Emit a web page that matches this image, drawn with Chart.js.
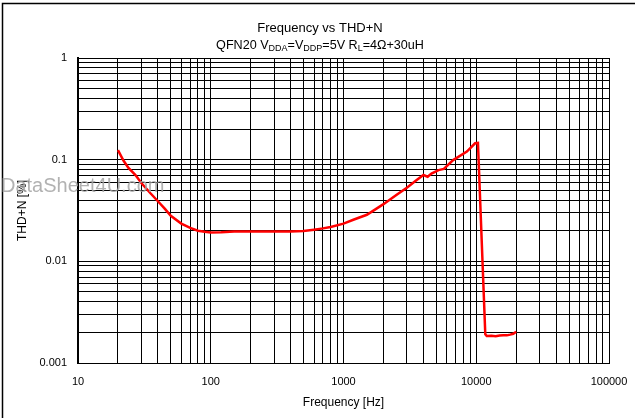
<!DOCTYPE html>
<html>
<head>
<meta charset="utf-8">
<script src="https://cdn.jsdelivr.net/npm/chart.js@4/dist/chart.umd.min.js"></script>
<style>
  html, body { margin: 0; padding: 0; background: #fff; }
  #wrap { width: 635px; height: 418px; }
</style>
</head>
<body>
<div id="wrap"><canvas id="c"></canvas></div>
<script>
// frequency (Hz) and THD+N (%)
const freq = [20, 22, 24, 27, 30, 35, 40, 45, 50, 60, 70, 80, 90, 100, 120, 150, 200, 300, 400, 500,
  600, 700, 800, 1000, 1200, 1500, 2000, 2500, 3000, 3500, 4000, 4300, 4600, 5200, 5700, 6700, 8500,
  9800, 10300, 11700, 12000, 13000, 14000, 15000, 16000, 17000, 18000, 19000, 20000];
const thd = [0.124, 0.098, 0.083, 0.071, 0.059, 0.047, 0.039, 0.033, 0.028, 0.0235, 0.0213, 0.02,
  0.0195, 0.0192, 0.0193, 0.0196, 0.0196, 0.0197, 0.0197, 0.0199, 0.0205, 0.0211, 0.0218, 0.0235,
  0.0258, 0.0287, 0.0365, 0.045, 0.053, 0.062, 0.0706, 0.068, 0.073, 0.079, 0.081, 0.099, 0.12,
  0.145, 0.146, 0.00192, 0.00184, 0.00185, 0.00183, 0.00186, 0.00187, 0.00187, 0.0019, 0.00194, 0.00203];

const xTickLabels = ["10", "100", "1000", "10000", "100000"];
const yTickLabels = ["0.001", "0.01", "0.1", "1"];

const titleLine1 = "Frequency vs THD+N";
const titleLine2 = [
  { t: "QFN20 V" }, { t: "DDA", sub: true }, { t: "=V" }, { t: "DDP", sub: true },
  { t: "=5V R" }, { t: "L", sub: true }, { t: "=4\u03A9+30uH" }
];
const watermark = "DataSheet4U.com";

// grid lines at 1..9 of every decade
function gridValues(labels) {
  const out = [];
  labels.forEach(function (l, i) {
    const d = Number(l);
    if (i === labels.length - 1) { out.push(d); return; }
    for (let k = 1; k < 10; k++) out.push(d * k);
  });
  return out;
}
const xGrid = gridValues(xTickLabels);
const yGrid = gridValues(yTickLabels);

function decadeLabel(labels) {
  return function (value) {
    for (const l of labels) {
      if (Math.abs(Number(l) - value) < Number(l) * 1e-6) return l;
    }
    return "";
  };
}

const FONT = "'Liberation Sans', Arial, sans-serif";

const decor = {
  id: "decor",
  beforeDraw(chart) {
    const ctx = chart.ctx;
    ctx.save();
    ctx.fillStyle = "#fff";
    ctx.fillRect(0, 0, chart.width, chart.height);
    ctx.strokeStyle = "#000";
    ctx.lineWidth = 1.5;
    ctx.beginPath();
    ctx.moveTo(2.5, chart.height);
    ctx.lineTo(2.5, 3.5);
    ctx.lineTo(chart.width, 3.5);
    ctx.stroke();
    ctx.restore();
  },
  afterDraw(chart) {
    const ctx = chart.ctx;
    const cx = 320;
    ctx.save();
    ctx.fillStyle = "#000";
    ctx.textBaseline = "middle";
    ctx.textAlign = "left";
    ctx.font = "13px " + FONT;
    const w1 = ctx.measureText(titleLine1).width;
    ctx.fillText(titleLine1, cx - w1 / 2, 28);

    // second line with subscripts
    const big = "12.6px " + FONT, small = "9px " + FONT;
    let total = 0;
    titleLine2.forEach(function (s) {
      ctx.font = s.sub ? small : big;
      s.w = ctx.measureText(s.t).width;
      total += s.w;
    });
    let x = cx - total / 2;
    titleLine2.forEach(function (s) {
      ctx.font = s.sub ? small : big;
      ctx.fillText(s.t, x, s.sub ? 49 : 46);
      x += s.w;
    });

    ctx.font = "20px " + FONT;
    ctx.fillStyle = "rgba(165,165,165,0.85)";
    ctx.fillText(watermark, 1, 186);
    ctx.restore();
  }
};

new Chart(document.getElementById("c"), {
  type: "line",
  data: {
    datasets: [{
      data: freq.map(function (f, i) { return { x: f, y: thd[i] }; }),
      borderColor: "#ff0000",
      backgroundColor: "#ff0000",
      borderWidth: 2.5,
      pointRadius: 0,
      tension: 0,
      fill: false
    }]
  },
  options: {
    responsive: true,
    maintainAspectRatio: false,
    animation: false,
    layout: { padding: { left: 0, top: 58, right: 26, bottom: 0 } },
    plugins: {
      legend: { display: false },
      tooltip: { enabled: false },
      title: { display: false }
    },
    scales: {
      x: {
        type: "logarithmic",
        min: 10,
        max: 100000,
        afterBuildTicks: function (s) { s.ticks = xGrid.map(function (v) { return { value: v }; }); },
        afterFit: function (s) { s.height = 55; s.paddingLeft = 0; s.paddingRight = 0; },
        grid: { color: "#000", lineWidth: 1, drawTicks: false },
        border: { color: "#000", width: 1 },
        ticks: {
          autoSkip: false,
          maxRotation: 0,
          padding: 12,
          color: "#000",
          font: { family: FONT, size: 11 },
          callback: decadeLabel(xTickLabels)
        },
        title: {
          display: true,
          text: "Frequency [Hz]",
          color: "#000",
          font: { family: FONT, size: 12 },
          padding: { top: 0, bottom: 8 }
        }
      },
      y: {
        type: "logarithmic",
        min: 0.001,
        max: 1,
        afterBuildTicks: function (s) { s.ticks = yGrid.map(function (v) { return { value: v }; }); },
        afterFit: function (s) { s.width = 78; s.paddingTop = 0; s.paddingBottom = 0; },
        grid: { color: "#000", lineWidth: 1, drawTicks: false },
        border: { color: "#000", width: 2 },
        ticks: {
          autoSkip: false,
          padding: 11,
          color: "#000",
          font: { family: FONT, size: 11 },
          callback: decadeLabel(yTickLabels)
        },
        title: {
          display: true,
          text: "THD+N [%]",
          color: "#000",
          font: { family: FONT, size: 12 },
          padding: { top: 15, bottom: 0 }
        }
      }
    }
  },
  plugins: [decor]
});
</script>
</body>
</html>
